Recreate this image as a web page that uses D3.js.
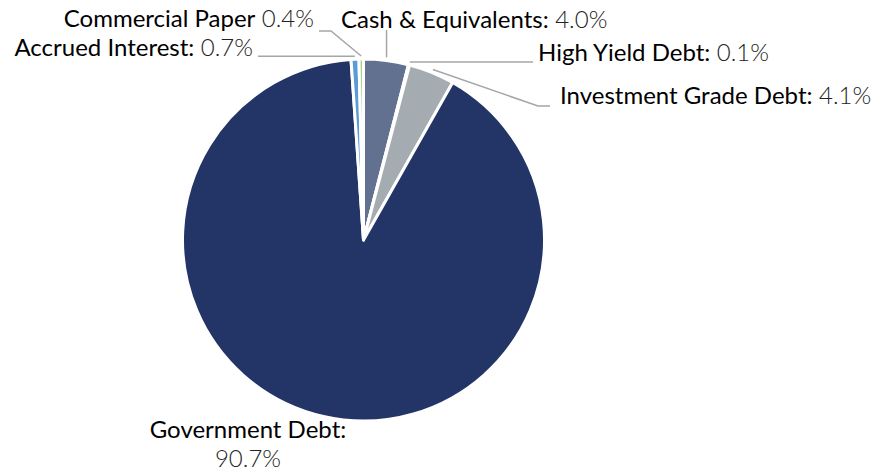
<!DOCTYPE html>
<html>
<head>
<meta charset="utf-8">
<script src="https://cdn.jsdelivr.net/npm/d3@7"></script>
<style>
  body { margin: 0; background: #fff; }
  svg { display: block; font-family: Lato, "Open Sans", sans-serif; }
</style>
</head>
<body>
<svg width="882" height="474"></svg>
<script>
// data, clockwise from 12 o'clock
var categories = ['Cash & Equivalents', 'High Yield Debt', 'Investment Grade Debt', 'Government Debt', 'Accrued Interest', 'Commercial Paper'];
var values = [4.0, 0.1, 4.1, 90.7, 0.7, 0.4];
var valueLabels = ['4.0%', '0.1%', '4.1%', '90.7%', '0.7%', '0.4%'];
var separators = [':', ':', ':', ':', ':', ''];
var colors = ['#627190', '#f2b134', '#a4acb2', '#233467', '#5b9bd5', '#a9d18e'];

var svg = d3.select('svg');
var cx = 363.5, cy = 240, r = 181;

var pie = d3.pie().sort(null).value(d => d);
var arcs = pie(values);
var arc = d3.arc().innerRadius(0).outerRadius(r);
var leaderArc = d3.arc().innerRadius(r + 3).outerRadius(r + 3);

var g = svg.append('g').attr('transform', 'translate(' + cx + ',' + cy + ')');

g.selectAll('path')
  .data(arcs)
  .enter()
  .append('path')
  .attr('d', arc)
  .style('fill', (d, i) => colors[i])
  .style('stroke', '#fff')
  .style('stroke-width', 3)
  .style('stroke-linejoin', 'round');

// where each label sits (page coords) and how its leader bends
var layout = [
  { x: 341, y: 28, anchor: 'start', leader: s => [s, [s[0], 30]] },
  { x: 538, y: 61, anchor: 'start', leader: s => [s, [533, s[1]]] },
  { x: 560, y: 104, anchor: 'start', leader: s => [s, [538, 106], [550, 106]] },
  { x: 248, y: 438, anchor: 'middle', wrap: true },
  { x: 253, y: 56, anchor: 'end', leader: s => [s, [258, s[1]]] },
  { x: 314, y: 27, anchor: 'end', leader: s => [s, [331, 31], [319, 31]] }
];

var line = d3.line();

arcs.forEach((d, i) => {
  var lay = layout[i];
  if (lay.leader) {
    var c = leaderArc.centroid(d);
    var start = [cx + c[0], cy + c[1]];
    svg.append('path')
      .attr('d', line(lay.leader(start)))
      .style('fill', 'none')
      .style('stroke', '#a6a6a6')
      .style('stroke-width', 1.5);
  }

  var t = svg.append('text')
    .attr('x', lay.x)
    .attr('y', lay.y)
    .attr('text-anchor', lay.anchor)
    .style('font-size', '24px');

  t.append('tspan')
    .text(categories[i] + separators[i])
    .style('fill', '#000');

  var v = t.append('tspan')
    .text((lay.wrap ? '' : ' ') + valueLabels[i])
    .style('fill', '#222')
    .style('font-weight', 300);
  if (lay.wrap) v.attr('x', lay.x).attr('dy', 29);
});
</script>
</body>
</html>
